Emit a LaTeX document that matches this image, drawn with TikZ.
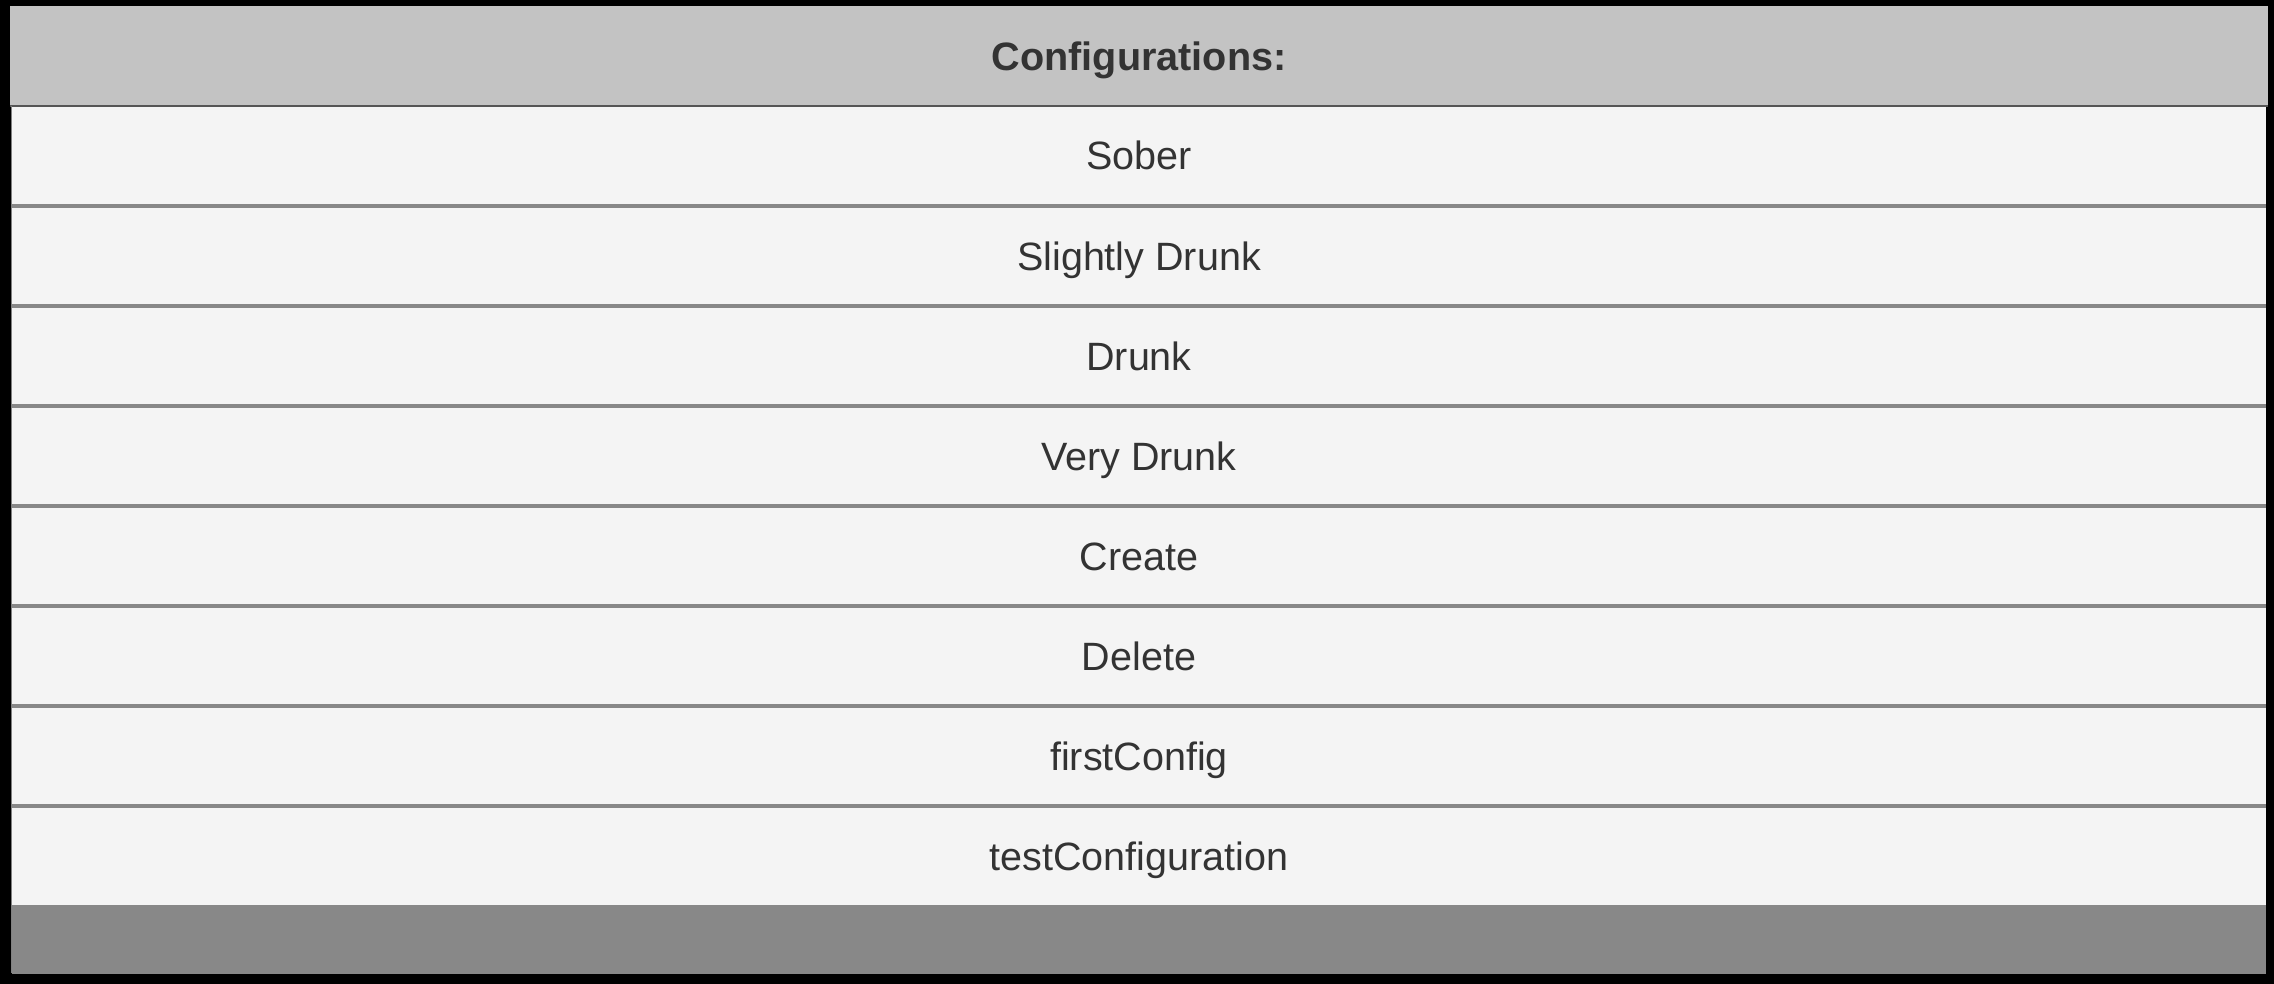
\documentclass[tikz,border=0pt]{standalone}
\usepackage{fontspec}
\setmainfont{Liberation Sans}
\definecolor{hdrfill}{HTML}{C3C3C3}
\definecolor{rowfill}{HTML}{F4F4F4}
\definecolor{sepcol}{HTML}{888888}
\definecolor{footfill}{HTML}{888888}
\definecolor{txt}{HTML}{333333}
\definecolor{darkline}{HTML}{555555}
\tikzset{
  hdrbox/.style={rectangle, fill=hdrfill, inner sep=0pt, minimum width=2258pt, minimum height=100pt,
    text height=29.5pt, text depth=0pt, text=txt, font=\fontsize{39.6}{44}\selectfont\bfseries},
  rowbox/.style={rectangle, fill=rowfill, inner sep=0pt, minimum width=2254pt, minimum height=100pt,
    text height=28pt, text depth=0pt, text=txt, font=\fontsize{39.5}{43}\selectfont},
  footbox/.style={rectangle, fill=footfill, inner sep=0pt, minimum width=2254pt, minimum height=68pt},
  sepline/.style={draw=sepcol, line width=3.5pt},
}
\begin{document}
\begin{tikzpicture}[x=1pt,y=-1pt]
\useasboundingbox (0,0) rectangle (2274,984);
\fill[black] (0,0) rectangle (2274,984);
\node[hdrbox] (hdr) at (1139,56) {Configurations:};
\foreach \t [count=\i] in {Sober,Slightly Drunk,Drunk,Very Drunk,Create,Delete,firstConfig,testConfiguration}
  \node[rowbox] (row\i) at (1139,{56+100*\i}) {\t};
\node[footbox] (foot) at (1139,939) {};
\foreach \i in {1,...,7}
  \draw[sepline] (row\i.south west) -- (row\i.south east);
\draw[darkline, line width=1.5pt] (hdr.south west) -- (hdr.south east);
\draw[darkline!70, line width=2pt] (foot.south west) -- (foot.south east);
\draw[gray, line width=1pt] (row1.north west) -- (foot.south west);
\end{tikzpicture}
\end{document}
